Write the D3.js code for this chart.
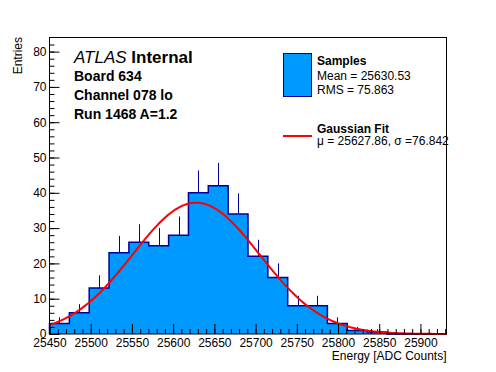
<!DOCTYPE html>
<html>
<head>
<meta charset="utf-8">
<script src="https://cdn.jsdelivr.net/npm/d3@7"></script>
<style>
  body { margin: 0; background: #fff; }
  svg { font-family: "Liberation Sans", Arial, sans-serif; }
</style>
</head>
<body>
<script>
// histogram: 20 bins over the x range
const xMin = 25450, xMax = 25931.6
const counts = [3, 6, 13, 23, 26, 25, 28, 40, 42, 34, 22, 16, 8, 8, 3, 1, 0.6, 0, 0, 0]
const xTicks = [25450, 25500, 25550, 25600, 25650, 25700, 25750, 25800, 25850, 25900]
const yTicks = [0, 10, 20, 30, 40, 50, 60, 70, 80]
// gaussian fit parameters
const fitMu = 25627.86, fitSigma = 76.842, fitAmp = 37.2
const infoLines = ["Board 634", "Channel 078 lo", "Run 1468 A=1.2"]

const width = 496, height = 372
const frameL = 49.5, frameR = 446.5, frameT = 37.5, frameB = 334

const svg = d3.select("body").append("svg")
    .attr("width", width)
    .attr("height", height)

const x = d3.scaleLinear().domain([xMin, xMax]).range([frameL, frameR])
const y = d3.scaleLinear().domain([0, 84]).range([frameB, frameT])

const binW = (xMax - xMin) / counts.length
const bins = counts.map((c, i) => ({x0: xMin + i * binW, x1: xMin + (i + 1) * binW, n: c}))

// step outline points (also used for the fill, so no seams between bars)
let step = [[x(xMin), y(0)]]
bins.forEach(d => { step.push([x(d.x0), y(d.n)]); step.push([x(d.x1), y(d.n)]) })
step.push([x(xMax), y(0)])

svg.append("path")
    .attr("d", d3.line()(step) + "Z")
    .attr("fill", "#0099ff")

// error bars (upper half shows above the fill)
svg.append("g")
    .attr("stroke", "#000099")
    .attr("stroke-width", 1)
    .selectAll("line")
    .data(bins.filter(d => d.n > 0))
    .join("line")
        .attr("x1", d => Math.round(x((d.x0 + d.x1) / 2)) + 0.5)
        .attr("x2", d => Math.round(x((d.x0 + d.x1) / 2)) + 0.5)
        .attr("y1", d => y(d.n))
        .attr("y2", d => y(d.n + Math.sqrt(d.n)))

svg.append("path")
    .attr("d", d3.line()(step))
    .attr("fill", "none")
    .attr("stroke", "#000099")
    .attr("stroke-width", 1.5)

// fit curve
const gauss = v => fitAmp * Math.exp(-0.5 * Math.pow((v - fitMu) / fitSigma, 2))
const curveX = d3.range(xMin, xMax, (xMax - xMin) / 300).concat([xMax])
svg.append("path")
    .attr("d", d3.line().x(v => x(v)).y(v => y(gauss(v)))(curveX))
    .attr("fill", "none")
    .attr("stroke", "#ff0000")
    .attr("stroke-width", 2)

// frame
svg.append("rect")
    .attr("x", frameL).attr("y", frameT)
    .attr("width", frameR - frameL).attr("height", frameB - frameT)
    .attr("fill", "none").attr("stroke", "#000").attr("stroke-width", 1)

// axes: minor ticks then major ticks with labels
const xMinor = d3.range(xMin, xMax, 10)
svg.append("g")
    .attr("transform", `translate(0,${frameB})`)
    .call(d3.axisBottom(x).tickValues(xMinor).tickSize(-5).tickFormat(""))
    .call(g => g.select(".domain").remove())
svg.append("g")
    .attr("transform", `translate(0,${frameB})`)
    .call(d3.axisBottom(x).tickValues(xTicks).tickSize(-10).tickPadding(4).tickFormat(d3.format("d")))
    .call(g => g.select(".domain").remove())
    .call(g => g.selectAll("text").attr("font-size", 12).attr("font-family", "Liberation Sans, Arial, sans-serif"))

svg.append("g")
    .attr("transform", `translate(${frameL},0)`)
    .call(d3.axisLeft(y).tickValues(d3.range(0, 84, 2)).tickSize(-5).tickFormat(""))
    .call(g => g.select(".domain").remove())
svg.append("g")
    .attr("transform", `translate(${frameL},0)`)
    .call(d3.axisLeft(y).tickValues(yTicks).tickSize(-10).tickPadding(3))
    .call(g => g.select(".domain").remove())
    .call(g => g.selectAll("text").attr("font-size", 12).attr("font-family", "Liberation Sans, Arial, sans-serif"))

// axis titles
svg.append("text")
    .attr("x", frameR).attr("y", 360)
    .attr("text-anchor", "end")
    .attr("font-size", 12)
    .text("Energy [ADC Counts]")
svg.append("text")
    .attr("transform", "translate(22,37) rotate(-90)")
    .attr("text-anchor", "end")
    .attr("font-size", 12)
    .text("Entries")

// ATLAS label
const atlas = svg.append("text").attr("x", 74).attr("y", 63).attr("font-size", 17)
atlas.append("tspan").attr("font-style", "italic").text("ATLAS")
atlas.append("tspan").attr("font-weight", "bold").text(" Internal")

svg.append("g")
    .selectAll("text")
    .data(infoLines)
    .join("text")
        .attr("x", 74)
        .attr("y", (d, i) => 80.5 + i * 19.3)
        .attr("font-size", 14)
        .attr("font-weight", "bold")
        .text(d => d)

// legend
const leg = svg.append("g")
leg.append("rect")
    .attr("x", 283.5).attr("y", 53.5).attr("width", 28).attr("height", 43)
    .attr("fill", "#0099ff").attr("stroke", "#000099").attr("stroke-width", 1)
leg.append("text").attr("x", 317).attr("y", 65).attr("font-size", 12).attr("font-weight", "bold").text("Samples")
leg.append("text").attr("x", 317).attr("y", 80).attr("font-size", 12).text("Mean = 25630.53")
leg.append("text").attr("x", 317).attr("y", 93.5).attr("font-size", 12).text("RMS = 75.863")
leg.append("line")
    .attr("x1", 283).attr("x2", 312).attr("y1", 136).attr("y2", 136)
    .attr("stroke", "#ff0000").attr("stroke-width", 2)
leg.append("text").attr("x", 317).attr("y", 132.5).attr("font-size", 12).attr("font-weight", "bold").text("Gaussian Fit")
leg.append("text").attr("x", 317).attr("y", 145).attr("font-size", 12).text("\u03bc = 25627.86, \u03c3 =76.842")
</script>
</body>
</html>
